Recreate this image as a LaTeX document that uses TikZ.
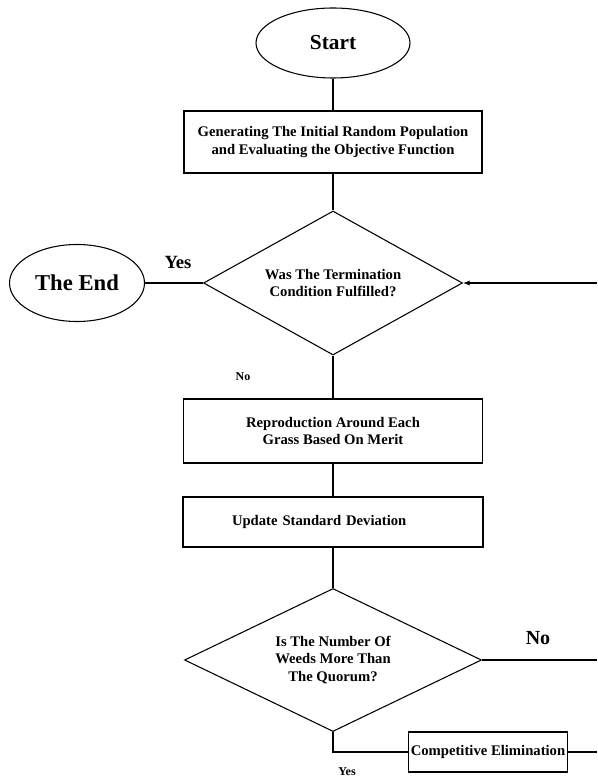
\documentclass[tikz,border=0pt]{standalone}
\usepackage{fontspec}
\setmainfont{Liberation Serif}
\usetikzlibrary{shapes.geometric,arrows.meta}
\begin{document}
\begin{tikzpicture}[x=0.75pt,y=-0.75pt,
        every node/.style={font=\bfseries},
        terminal/.style={draw,thick,ellipse,inner sep=0pt},
        process/.style={draw,thick,rectangle,align=center,inner sep=0pt,font=\bfseries\fontsize{11}{13}\selectfont},
        decision/.style={draw,thick,diamond,shape aspect=2,inner sep=0pt,align=center,font=\bfseries\fontsize{11}{13}\selectfont},
        flow/.style={thick}]
    \useasboundingbox (0,0) rectangle (597,777);
    % terminals
    \node[terminal,minimum width=115.5pt,minimum height=52.5pt,font=\bfseries\fontsize{16}{19}\selectfont] (start) at (333,43) {Start};
    \node[terminal,minimum width=101.25pt,minimum height=57.75pt,font=\bfseries\fontsize{17}{20}\selectfont] (theend) at (77,283) {The End};
    % steps
    \node[process,minimum width=223.5pt,minimum height=46.5pt] (init) at (333,142) {Generating The Initial Random Population\\and Evaluating the Objective Function};
    \node[decision,minimum width=194.25pt,minimum height=108pt] (cond) at (333,283) {Was The Termination\\Condition Fulfilled?};
    \node[process,minimum width=224.25pt,minimum height=48pt] (repro) at (333,431) {Reproduction Around Each\\Grass Based On Merit};
    \node[process,minimum height=37.5pt,text width=151.5pt,inner xsep=36.75pt,align=left] (update) at (333,522) {Update Standard Deviation};
    \node[decision,minimum width=222.75pt,minimum height=107.25pt] (quorum) at (333,660) {Is The Number Of\\Weeds More Than\\The Quorum?};
    \node[process,minimum width=119.25pt,minimum height=30pt] (elim) at (488,752) {Competitive Elimination};
    % free ends at the right border
    \coordinate (loopin) at (597,283);
    \coordinate (noout) at (597,660);
    \coordinate (elimout) at (597,752);
    % labels
    \node[font=\bfseries\fontsize{14}{16}\selectfont] (yesend) at (178,262) {Yes};
    \node[font=\bfseries\fontsize{9}{11}\selectfont] (nocond) at (243,377) {No};
    \node[font=\bfseries\fontsize{15}{17}\selectfont] (noquorum) at (538,638) {No};
    \node[font=\bfseries\fontsize{9}{11}\selectfont] (yesquorum) at (347,772) {Yes};
    % connectors
    \draw[flow] (start) -- (init);
    \draw[flow] (init) -- (cond);
    \draw[flow] (cond.west) -- (theend);
    \draw[flow,-{Latex[length=5pt,width=4pt]}] (loopin) -- (cond.east);
    \draw[flow] (cond) -- (repro);
    \draw[flow] (repro) -- (update);
    \draw[flow] (update) -- (quorum);
    \draw[flow] (quorum.east) -- (noout);
    \draw[flow] (quorum.south) |- (elim.west);
    \draw[flow] (elim.east) -- (elimout);
\end{tikzpicture}
\end{document}
